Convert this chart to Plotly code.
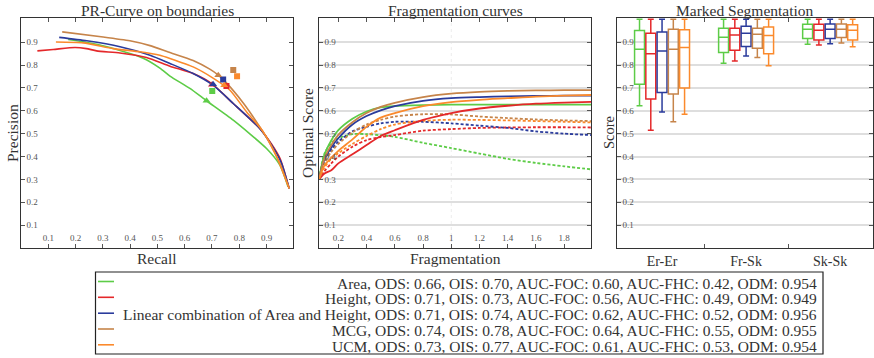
import plotly.graph_objects as go

W, H = 874, 358
FONT = "Liberation Serif, Times New Roman, DejaVu Serif, serif"
TXT = "#333333"

methods = ["Area", "Height", "Linear combination of Area and Height", "MCG", "UCM"]
colors = ["#5dcc47", "#e4282a", "#2a3b9c", "#c6844a", "#fb8a2c"]
ods = [0.66, 0.71, 0.71, 0.74, 0.73]
ois = [0.70, 0.73, 0.74, 0.78, 0.77]
auc_foc = [0.60, 0.56, 0.62, 0.64, 0.61]
auc_fhc = [0.42, 0.49, 0.52, 0.55, 0.53]
odm = [0.954, 0.949, 0.956, 0.955, 0.954]

# PR curves (recall, precision)
pr_recall = [
    [0.173, 0.277, 0.387, 0.448, 0.509, 0.546, 0.619, 0.680, 0.778, 0.900, 0.949, 0.979],
    [0.060, 0.118, 0.198, 0.240, 0.277, 0.363, 0.460, 0.546, 0.631, 0.698, 0.778, 0.875, 0.918, 0.950, 0.983],
    [0.140, 0.241, 0.363, 0.473, 0.546, 0.631, 0.704, 0.778, 0.875, 0.924, 0.955, 0.983],
    [0.151, 0.301, 0.399, 0.473, 0.540, 0.631, 0.692, 0.723, 0.753, 0.814, 0.875, 0.912, 0.949, 0.983],
    [0.128, 0.228, 0.338, 0.436, 0.509, 0.546, 0.631, 0.704, 0.766, 0.827, 0.888, 0.937, 0.983],
]
pr_precision = [
    [0.912, 0.891, 0.855, 0.830, 0.787, 0.752, 0.698, 0.644, 0.559, 0.435, 0.362, 0.268],
    [0.862, 0.868, 0.877, 0.872, 0.862, 0.853, 0.833, 0.795, 0.763, 0.720, 0.632, 0.523, 0.455, 0.390, 0.260],
    [0.921, 0.906, 0.880, 0.843, 0.807, 0.763, 0.712, 0.632, 0.523, 0.440, 0.370, 0.260],
    [0.945, 0.923, 0.906, 0.885, 0.857, 0.820, 0.782, 0.756, 0.722, 0.635, 0.530, 0.458, 0.370, 0.260],
    [0.901, 0.897, 0.872, 0.858, 0.843, 0.829, 0.792, 0.743, 0.690, 0.595, 0.508, 0.399, 0.260],
]
ods_recall = [0.680, 0.700, 0.704, 0.723, 0.745]
ods_precision = [0.644, 0.714, 0.716, 0.756, 0.712]
ois_recall = [0.701, 0.753, 0.741, 0.778, 0.792]
ois_precision = [0.687, 0.708, 0.737, 0.778, 0.751]

# Fragmentation curves
frag_x = [0.063, 0.1, 0.15, 0.2, 0.3, 0.4, 0.5, 0.6, 0.8, 1.0, 1.2, 1.4, 1.6, 1.8, 1.99]
foc = [
    [0.30, 0.405, 0.47, 0.515, 0.565, 0.597, 0.615, 0.621, 0.625, 0.627, 0.627, 0.627, 0.627, 0.627, 0.627],
    [0.30, 0.325, 0.34, 0.37, 0.41, 0.45, 0.49, 0.515, 0.56, 0.59, 0.61, 0.622, 0.631, 0.636, 0.639],
    [0.30, 0.385, 0.44, 0.48, 0.54, 0.577, 0.602, 0.62, 0.643, 0.655, 0.66, 0.663, 0.665, 0.666, 0.666],
    [0.30, 0.39, 0.45, 0.495, 0.55, 0.59, 0.617, 0.635, 0.66, 0.675, 0.683, 0.687, 0.689, 0.69, 0.69],
    [0.30, 0.36, 0.395, 0.425, 0.475, 0.53, 0.57, 0.59, 0.62, 0.638, 0.648, 0.655, 0.662, 0.666, 0.669],
]
fhc = [
    [0.30, 0.41, 0.46, 0.48, 0.498, 0.498, 0.493, 0.486, 0.46, 0.437, 0.413, 0.39, 0.372, 0.357, 0.344],
    [0.30, 0.335, 0.37, 0.40, 0.443, 0.472, 0.485, 0.494, 0.513, 0.52, 0.525, 0.527, 0.528, 0.528, 0.527],
    [0.30, 0.37, 0.43, 0.465, 0.51, 0.53, 0.545, 0.552, 0.552, 0.545, 0.535, 0.525, 0.51, 0.50, 0.494],
    [0.30, 0.37, 0.42, 0.455, 0.505, 0.54, 0.56, 0.575, 0.585, 0.584, 0.575, 0.568, 0.562, 0.558, 0.555],
    [0.30, 0.35, 0.39, 0.415, 0.455, 0.49, 0.52, 0.54, 0.556, 0.561, 0.56, 0.558, 0.555, 0.552, 0.549],
]
frag_ticks = [0.2, 0.4, 0.6, 0.8, 1.0, 1.2, 1.4, 1.6, 1.8]
frag_ticktext = ["0.2", "0.4", "0.6", "0.8", "1", "1.2", "1.4", "1.6", "1.8"]
unit_ticks = [0.1, 0.2, 0.3, 0.4, 0.5, 0.6, 0.7, 0.8, 0.9]

# Marked segmentation box stats, per method, per category
seg_cats = ["Er-Er", "Fr-Sk", "Sk-Sk"]
box_low = [[0.622, 0.808, 0.891], [0.515, 0.818, 0.888], [0.595, 0.840, 0.893], [0.552, 0.833, 0.896], [0.585, 0.797, 0.880]]
box_q1 = [[0.716, 0.855, 0.916], [0.652, 0.865, 0.910], [0.680, 0.881, 0.916], [0.674, 0.874, 0.920], [0.700, 0.849, 0.910]]
box_med = [[0.869, 0.922, 0.957], [0.849, 0.931, 0.952], [0.862, 0.939, 0.957], [0.869, 0.935, 0.957], [0.877, 0.929, 0.952]]
box_q3 = [[0.951, 0.961, 0.979], [0.939, 0.961, 0.979], [0.945, 0.970, 0.980], [0.957, 0.961, 0.980], [0.954, 0.966, 0.976]]
box_high = [[1.0, 1.0, 1.0]] * 5

fig = go.Figure()

for i in range(5):
    fig.add_trace(go.Scatter(x=pr_recall[i], y=pr_precision[i], mode="lines",
                             line=dict(color=colors[i], width=1.6, shape="spline", smoothing=0.6),
                             xaxis="x", yaxis="y", showlegend=False))
for i in range(5):
    fig.add_trace(go.Scatter(x=[ods_recall[i]], y=[ods_precision[i]], mode="markers",
                             marker=dict(color=colors[i], symbol="triangle-up", size=7),
                             xaxis="x", yaxis="y", showlegend=False))
    fig.add_trace(go.Scatter(x=[ois_recall[i]], y=[ois_precision[i]], mode="markers",
                             marker=dict(color=colors[i], symbol="square", size=6),
                             xaxis="x", yaxis="y", showlegend=False))

for i in range(5):
    fig.add_trace(go.Scatter(x=frag_x, y=fhc[i], mode="lines",
                             line=dict(color=colors[i], width=1.8, dash="3px,2px", shape="spline", smoothing=0.8),
                             xaxis="x2", yaxis="y2", showlegend=False))
for i in range(5):
    fig.add_trace(go.Scatter(x=frag_x, y=foc[i], mode="lines",
                             line=dict(color=colors[i], width=1.8, shape="spline", smoothing=0.8),
                             xaxis="x2", yaxis="y2", showlegend=False))

for i in range(5):
    fig.add_trace(go.Box(x=seg_cats, q1=box_q1[i], median=box_med[i], q3=box_q3[i],
                         lowerfence=box_low[i], upperfence=box_high[i],
                         name=methods[i], offsetgroup=str(i),
                         line=dict(color=colors[i], width=1.5), fillcolor="rgba(255,255,255,0)",
                         whiskerwidth=0.6, boxpoints=False,
                         xaxis="x3", yaxis="y3", showlegend=False))

def px_x(p):
    return p / W

def px_y(p):
    return 1 - p / H

tickfont = dict(family=FONT, size=9, color="#555555")
axis_common = dict(showline=True, linecolor="#333333", linewidth=1.4, mirror="ticks",
                   ticks="inside", ticklen=4, tickcolor="#555555", tickfont=tickfont,
                   zeroline=False)

y_dom = [px_y(248), px_y(17.5)]
fig.update_layout(
    width=W, height=H, margin=dict(l=0, r=0, t=0, b=0),
    paper_bgcolor="white", plot_bgcolor="white",
    font=dict(family=FONT, color=TXT),
    boxmode="group", boxgap=0.33, boxgroupgap=0.12,
    xaxis=dict(domain=[px_x(21), px_x(293)], range=[0, 0.997], tickvals=unit_ticks,
               ticklabelposition="inside", showgrid=False, anchor="y", **axis_common),
    yaxis=dict(domain=y_dom, range=[0, 1.008], tickvals=unit_ticks,
               ticklabelposition="inside", showgrid=False, anchor="x", **axis_common),
    xaxis2=dict(domain=[px_x(319), px_x(591)], range=[0.063, 1.99], tickvals=frag_ticks,
                ticktext=frag_ticktext, ticklabelposition="inside", showgrid=False,
                anchor="y2", **axis_common),
    yaxis2=dict(domain=y_dom, range=[0, 1.008], tickvals=unit_ticks,
                ticklabelposition="inside", showgrid=True, gridcolor="#dedede", gridwidth=1.6,
                anchor="x2", **axis_common),
    xaxis3=dict(domain=[px_x(617), px_x(873)], range=[-0.536, 2.51], type="category",
                tickson="boundaries", anchor="y3", showgrid=False,
                showline=True, linecolor="#333333", linewidth=1.4, mirror="ticks",
                ticks="inside", ticklen=4, tickcolor="#555555",
                tickfont=dict(family=FONT, size=14, color=TXT)),
    yaxis3=dict(domain=y_dom, range=[0, 1.008], tickvals=unit_ticks,
                ticklabelposition="inside", showgrid=True, gridcolor="#dedede", gridwidth=1.6,
                anchor="x3", **axis_common),
)

# vertical faint line at fragmentation = 1
fig.add_shape(type="line", xref="x2", yref="y2 domain", x0=1, x1=1, y0=0, y1=1,
              line=dict(color="#ececec", width=1, dash="dot"), layer="below")

def ann(text, x, y, size, angle=0, xanchor="center"):
    fig.add_annotation(text=text, x=px_x(x), y=px_y(y), xref="paper", yref="paper",
                       showarrow=False, textangle=angle, xanchor=xanchor, yanchor="middle",
                       font=dict(family=FONT, size=size, color=TXT))

ann("PR-Curve on boundaries", 157, 10, 15.5)
ann("Fragmentation curves", 455, 10, 15.5)
ann("Marked Segmentation", 745, 10, 15.5)
ann("Recall", 157, 258, 15.5)
ann("Fragmentation", 455, 258, 15.5)
ann("Precision", 12, 133, 15.5, angle=-90)
ann("Optimal Score", 307, 133, 15.5, angle=-90)
ann("Score", 609, 133, 14.5, angle=-90)

# legend box
fig.add_shape(type="rect", xref="paper", yref="paper", x0=px_x(95.5), x1=px_x(823),
              y0=px_y(354), y1=px_y(272), line=dict(color="#222222", width=1.2),
              fillcolor="white")
leg_y = [281.5, 297.3, 313.2, 329.0, 344.8]
for i in range(5):
    fig.add_shape(type="line", xref="paper", yref="paper", x0=px_x(98), x1=px_x(114),
                  y0=px_y(leg_y[i]), y1=px_y(leg_y[i]), line=dict(color=colors[i], width=1.6))
    label = (f"{methods[i]}, ODS: {ods[i]:.2f}, OIS: {ois[i]:.2f}, AUC-FOC: {auc_foc[i]:.2f}, "
             f"AUC-FHC: {auc_fhc[i]:.2f}, ODM: {odm[i]:.3f}")
    ann(label, 819, leg_y[i] + 1.5, 15.5, xanchor="right")

fig.write_html("out.html", config={"displayModeBar": False},
               post_script="document.body.style.margin='0';document.body.style.overflow='hidden';")
